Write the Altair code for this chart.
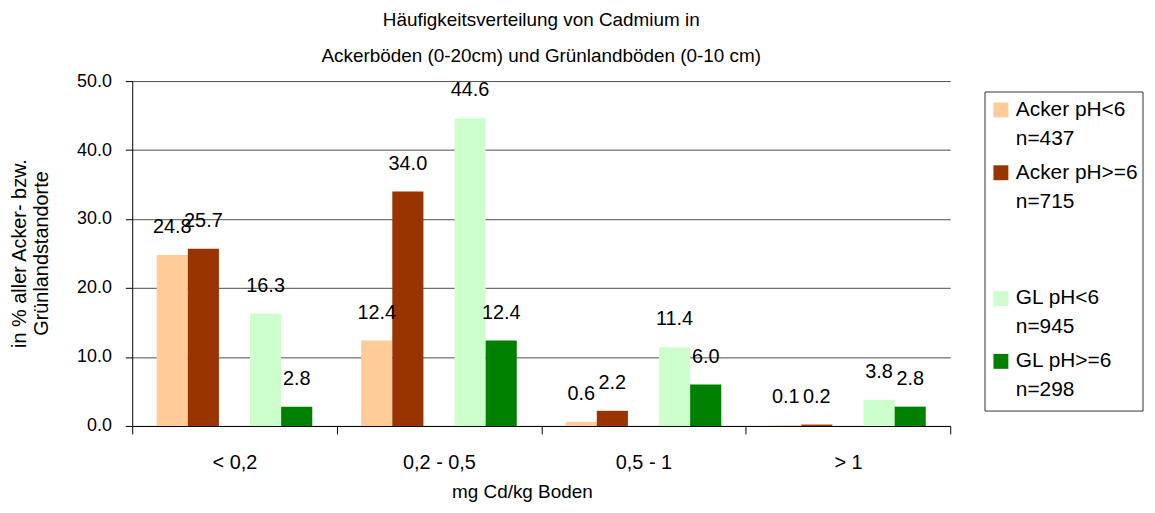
import altair as alt
import pandas as pd

categories = ["< 0,2", "0,2 - 0,5", "0,5 - 1", "> 1"]
series = ["Acker pH<6", "Acker pH>=6", "GL pH<6", "GL pH>=6"]
n_labels = ["n=437", "n=715", "n=945", "n=298"]
colors = ["#FFCC99", "#993300", "#CCFFCC", "#008000"]
gap_slot = " "
slot_order = ["Acker pH<6", "Acker pH>=6", gap_slot, "GL pH<6", "GL pH>=6"]

acker_lt6 = [24.8, 12.4, 0.6, 0.1]
acker_ge6 = [25.7, 34.0, 2.2, 0.2]
gl_lt6 = [16.3, 44.6, 11.4, 3.8]
gl_ge6 = [2.8, 12.4, 6.0, 2.8]

values = [acker_lt6, acker_ge6, gl_lt6, gl_ge6]
rows = []
for s, vals in zip(series, values):
    for c, v in zip(categories, vals):
        rows.append({"category": c, "series": s, "value": v})
df = pd.DataFrame(rows)
df_leg = pd.DataFrame({"series": series, "nlabel": n_labels})

FONT = "Liberation Sans"

x_enc = alt.X(
    "category:N", sort=categories,
    scale=alt.Scale(paddingInner=0, paddingOuter=0),
    axis=alt.Axis(title="mg Cd/kg Boden", titleFontSize=19, titleFontWeight="normal",
                  titlePadding=10, titleX=392, labelAngle=0, labelFontSize=20, labelPadding=19,
                  tickSize=8, tickBand="extent", grid=False, domainColor="black",
                  tickColor="black", labelColor="black", titleColor="black"),
)
xoff_enc = alt.XOffset("series:N", scale=alt.Scale(domain=slot_order, paddingInner=0, paddingOuter=0.786))
color_enc = alt.Color("series:N", scale=alt.Scale(domain=series, range=colors), legend=None)

bars = alt.Chart(df).mark_bar().encode(
    x=x_enc,
    xOffset=xoff_enc,
    y=alt.Y("value:Q", scale=alt.Scale(domain=[0, 50], nice=False),
            axis=alt.Axis(values=[0, 10, 20, 30, 40, 50], format=".1f",
                          title=["in % aller Acker- bzw.", "Grünlandstandorte"],
                          titleFontSize=20, titleFontWeight="normal", titleLineHeight=22,
                          titleX=-103, titleY=173, titleColor="black",
                          labelFontSize=18, labelPadding=14, tickSize=7,
                          labelColor="black", domainColor="black", tickColor="black",
                          grid=True, gridColor="#4d4d4d", gridWidth=1)),
    color=color_enc,
)

labels = alt.Chart(df).mark_text(dy=-28, fontSize=20, baseline="middle", color="black").encode(
    x=alt.X("category:N", sort=categories),
    xOffset=xoff_enc,
    y=alt.Y("value:Q", scale=alt.Scale(domain=[0, 50], nice=False), axis=None),
    text=alt.Text("value:Q", format=".1f"),
)

leg_y = alt.Y("series:N", scale=alt.Scale(domain=slot_order, range=[29, 282], padding=0), axis=None)

box = alt.Chart(pd.DataFrame({"a": [0]})).mark_rect(fill="white", stroke="#333333", strokeWidth=1).encode(
    x=alt.value(858), x2=alt.value(1017), y=alt.value(11), y2=alt.value(332)
)
leg_sq = alt.Chart(df_leg).mark_square(size=225, opacity=1).encode(
    x=alt.value(874), y=leg_y, color=color_enc
)
leg_t1 = alt.Chart(df_leg).mark_text(align="left", baseline="middle", fontSize=21, color="black").encode(
    x=alt.value(889), y=leg_y, text="series:N"
)
leg_t2 = alt.Chart(df_leg).mark_text(align="left", baseline="middle", fontSize=21, dy=29, color="black").encode(
    x=alt.value(889), y=leg_y, text="nlabel:N"
)

chart = alt.layer(bars, labels, box, leg_sq, leg_t1, leg_t2).resolve_scale(
    y="independent"
).properties(
    width=823, height=347,
    title=alt.TitleParams(
        text=["Häufigkeitsverteilung von Cadmium in", "Ackerböden (0-20cm) und Grünlandböden (0-10 cm)"],
        fontSize=19, fontWeight="normal", lineHeight=36, frame="group", anchor="middle",
        offset=6, color="black", font=FONT),
    autosize=alt.AutoSizeParams(type="none"),
    padding={"left": 125, "top": 72, "right": 198, "bottom": 78},
).configure(font=FONT).configure_view(stroke=None)

chart.save("out.html", embed_options={"renderer": "svg", "actions": False})
